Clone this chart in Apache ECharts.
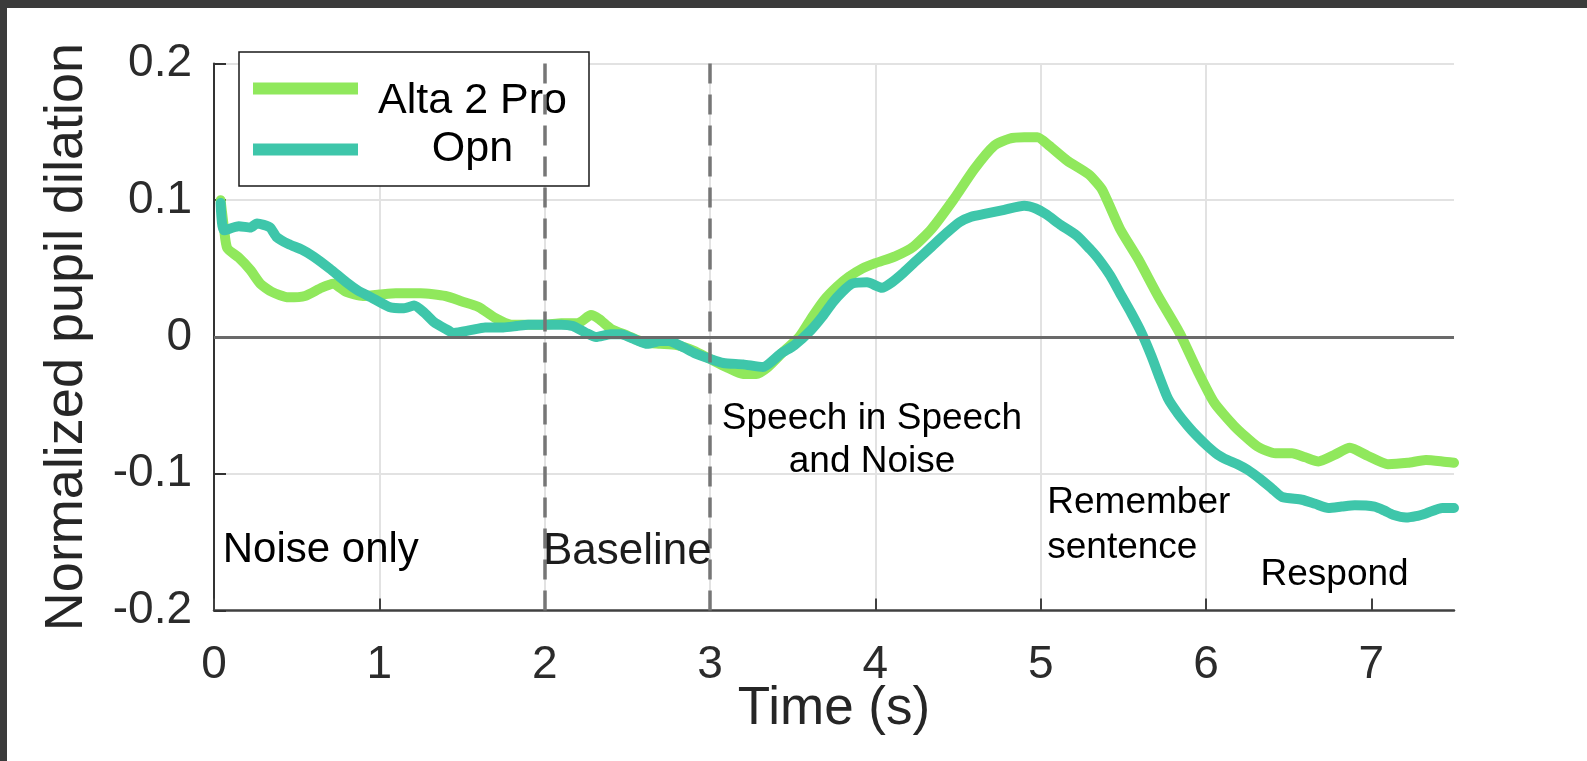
<!DOCTYPE html>
<html>
<head>
<meta charset="utf-8">
<script src="https://cdn.jsdelivr.net/npm/echarts@6/dist/echarts.min.js"></script>
<style>
html,body{margin:0;padding:0;background:#fff;}
#chart{width:1587px;height:761px;}
</style>
</head>
<body>
<div id="chart"></div>
<script>
// ---- data ----
const seriesNames = ['Alta 2 Pro', 'Opn'];
const xTicks = [0, 1, 2, 3, 4, 5, 6, 7];
const yTicks = [-0.2, -0.1, 0, 0.1, 0.2];

const altaT = [0.04,0.06,0.08,0.15,0.22,0.28,0.35,0.45,0.55,0.65,0.72,0.8,0.9,1.0,1.1,1.25,1.4,1.5,1.6,1.7,1.8,1.9,2.0,2.1,2.2,2.28,2.33,2.4,2.5,2.6,2.7,2.8,2.9,3.0,3.1,3.2,3.28,3.35,3.45,3.54,3.62,3.69,3.77,3.84,3.92,4.0,4.12,4.23,4.34,4.47,4.6,4.72,4.81,4.9,4.98,5.05,5.16,5.29,5.37,5.48,5.59,5.71,5.84,5.95,6.05,6.17,6.31,6.42,6.52,6.6,6.68,6.78,6.87,6.98,7.1,7.22,7.33,7.43,7.5];
const altaV = [0.1,0.08,0.065,0.058,0.049,0.039,0.033,0.029,0.03,0.036,0.039,0.033,0.03,0.031,0.032,0.032,0.03,0.026,0.022,0.014,0.009,0.009,0.009,0.01,0.01,0.016,0.013,0.006,0.001,-0.004,-0.005,-0.006,-0.01,-0.016,-0.022,-0.027,-0.027,-0.022,-0.01,0.0,0.015,0.027,0.037,0.044,0.05,0.054,0.059,0.066,0.079,0.1,0.123,0.14,0.145,0.146,0.146,0.14,0.129,0.119,0.108,0.079,0.057,0.03,0.003,-0.025,-0.048,-0.065,-0.08,-0.085,-0.085,-0.088,-0.091,-0.086,-0.081,-0.087,-0.093,-0.092,-0.09,-0.091,-0.092];

const opnT = [0.04,0.06,0.15,0.22,0.26,0.3,0.34,0.38,0.45,0.53,0.6,0.7,0.8,0.87,0.95,1.06,1.15,1.21,1.27,1.33,1.4,1.45,1.55,1.64,1.75,1.83,1.9,2.0,2.1,2.17,2.25,2.31,2.4,2.46,2.55,2.62,2.7,2.75,2.83,2.91,3.0,3.08,3.2,3.32,3.43,3.51,3.61,3.68,3.74,3.8,3.86,3.95,4.04,4.1,4.17,4.25,4.34,4.43,4.51,4.58,4.66,4.78,4.9,4.97,5.03,5.12,5.22,5.3,5.35,5.42,5.48,5.55,5.61,5.67,5.72,5.77,5.83,5.89,5.95,6.01,6.07,6.13,6.19,6.25,6.33,6.4,6.46,6.58,6.66,6.74,6.82,6.9,7.02,7.08,7.13,7.21,7.27,7.33,7.43,7.5];
const opnV = [0.098,0.078,0.081,0.08,0.083,0.082,0.08,0.073,0.068,0.064,0.059,0.05,0.04,0.034,0.029,0.022,0.021,0.023,0.018,0.011,0.006,0.003,0.005,0.007,0.007,0.008,0.009,0.009,0.009,0.008,0.003,0.0,0.002,0.002,-0.002,-0.005,-0.003,-0.003,-0.007,-0.012,-0.016,-0.019,-0.02,-0.022,-0.012,-0.006,0.005,0.015,0.025,0.033,0.039,0.04,0.036,0.04,0.047,0.056,0.066,0.076,0.084,0.088,0.09,0.093,0.096,0.094,0.09,0.082,0.074,0.064,0.057,0.045,0.032,0.017,0.003,-0.014,-0.03,-0.045,-0.056,-0.065,-0.073,-0.08,-0.086,-0.09,-0.093,-0.097,-0.104,-0.111,-0.117,-0.119,-0.122,-0.125,-0.124,-0.123,-0.124,-0.127,-0.13,-0.132,-0.131,-0.129,-0.125,-0.125];

const zeroLineY = 0;
const phaseBoundaries = [2, 3];

const annoText = ['Noise only', 'Baseline', 'Speech in Speech\nand Noise', 'Remember\nsentence', 'Respond'];
const annoX = [0.053, 1.99, 3.98, 5.04, 6.33];
const annoY = [-0.156, -0.157, -0.0755, -0.138, -0.174];

// ---- styles ----
const FONT = '"Liberation Sans", Arial, Helvetica, sans-serif';
const colors = ['#90E85C', '#3EC6AA'];
const annoStyle = [
  {fontSize: 42, align: 'left', lineHeight: 44, fill: '#000'},
  {fontSize: 44, align: 'left', lineHeight: 46, fill: '#1c1c1c'},
  {fontSize: 37, align: 'center', lineHeight: 43, fill: '#000'},
  {fontSize: 37, align: 'left', lineHeight: 45, fill: '#000'},
  {fontSize: 37, align: 'left', lineHeight: 40, fill: '#000'}
];

const zip = (t, v) => t.map((x, i) => [x, v[i]]);

const chart = echarts.init(document.getElementById('chart'), null, {renderer: 'canvas'});

const option = {
  animation: false,
  backgroundColor: '#ffffff',
  grid: {left: 214, top: 63.5, right: 133, bottom: 150.5, containLabel: false, outerBoundsMode: 'none'},
  legend: {
    data: seriesNames,
    orient: 'vertical',
    left: 239, top: 52,
    padding: [2, 7, 15, 14],
    itemGap: 5,
    icon: 'rect',
    itemWidth: 105, itemHeight: 12,
    backgroundColor: '#ffffff',
    borderColor: '#1a1a1a', borderWidth: 1.5, borderRadius: 0,
    selectedMode: false,
    formatter: name => name === seriesNames[0] ? '{a|' + name + '}' : '{b|' + name + '}',
    textStyle: {
      fontFamily: FONT, fontSize: 43, color: '#000',
      rich: {
        a: {fontFamily: FONT, fontSize: 43, color: '#000', width: 219, align: 'center', lineHeight: 42, padding: [26, 0, 0, 0]},
        b: {fontFamily: FONT, fontSize: 43, color: '#000', width: 219, align: 'center', lineHeight: 42, padding: [0, 0, 0, 0]}
      }
    }
  },
  xAxis: {
    type: 'value', min: 0, max: 7.5, interval: 1,
    name: 'Time (s)', nameLocation: 'middle', nameGap: 72, nameMoveOverlap: false,
    nameTextStyle: {fontFamily: FONT, fontSize: 53, color: '#262626'},
    axisLine: {show: true, onZero: false, lineStyle: {color: '#404040', width: 2.5}},
    axisTick: {show: true, inside: true, length: 12, customValues: xTicks, lineStyle: {color: '#404040', width: 2}},
    axisLabel: {fontFamily: FONT, fontSize: 46, color: '#2b2b2b', margin: 32, customValues: xTicks, formatter: v => String(v)},
    splitLine: {show: true, showMinLine: false, showMaxLine: false, lineStyle: {color: '#e2e2e2', width: 2}}
  },
  yAxis: {
    type: 'value', min: -0.2, max: 0.2, interval: 0.1,
    name: 'Normalized pupil dilation', nameLocation: 'middle', nameGap: 120, nameMoveOverlap: false,
    nameTextStyle: {fontFamily: FONT, fontSize: 54, color: '#262626'},
    axisLine: {show: true, onZero: false, lineStyle: {color: '#333333', width: 2}},
    axisTick: {show: true, inside: true, length: 12, customValues: yTicks, lineStyle: {color: '#333333', width: 2}},
    axisLabel: {fontFamily: FONT, fontSize: 46, color: '#2b2b2b', margin: 22, customValues: yTicks,
      formatter: v => String(Math.round(v * 10) / 10)},
    splitLine: {show: true, showMinLine: false, lineStyle: {color: '#e2e2e2', width: 2}}
  },
  series: [
    {
      type: 'line', name: '__guides', data: [], z: 1, silent: true,
      markLine: {
        silent: true, symbol: ['none', 'none'], label: {show: false}, animation: false,
        data: [
          {yAxis: zeroLineY, lineStyle: {color: '#6a6a6a', width: 3, type: 'solid'}},
          ...phaseBoundaries.map(b => ({xAxis: b, lineStyle: {color: '#767676', width: 3.5, type: [20, 11]}}))
        ]
      }
    },
    {
      type: 'line', name: seriesNames[0], data: zip(altaT, altaV), z: 3,
      showSymbol: false, symbol: 'none', smooth: 0.2,
      lineStyle: {color: colors[0], width: 10, cap: 'round', join: 'round'},
      itemStyle: {color: colors[0]}
    },
    {
      type: 'line', name: seriesNames[1], data: zip(opnT, opnV), z: 4,
      showSymbol: false, symbol: 'none', smooth: 0.2,
      lineStyle: {color: colors[1], width: 10, cap: 'round', join: 'round'},
      itemStyle: {color: colors[1]}
    }
  ]
};

chart.setOption(option);

const graphics = [
  {type: 'rect', z: 100, shape: {x: 0, y: 0, width: 1587, height: 8}, style: {fill: '#3b3b3b'}},
  {type: 'rect', z: 100, shape: {x: 0, y: 0, width: 7, height: 761}, style: {fill: '#3b3b3b'}}
];
annoText.forEach((t, i) => {
  const p = chart.convertToPixel({gridIndex: 0}, [annoX[i], annoY[i]]);
  const s = annoStyle[i];
  graphics.push({
    type: 'text', z: 50, x: p[0], y: p[1],
    style: {text: t, fontFamily: FONT, fontSize: s.fontSize, fill: s.fill, align: s.align,
      verticalAlign: 'middle', lineHeight: s.lineHeight}
  });
});
chart.setOption({graphic: graphics});
</script>
</body>
</html>
